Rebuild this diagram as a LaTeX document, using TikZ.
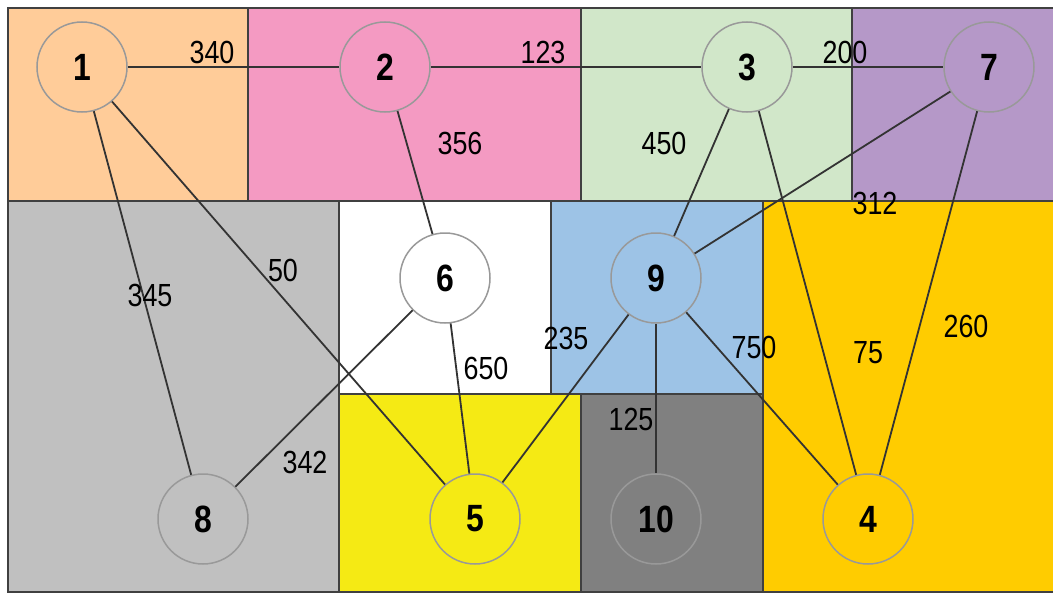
\documentclass[tikz,border=0pt]{standalone}
\usepackage{fontspec}
\newfontfamily\condfont[FakeStretch=0.84]{Liberation Sans}
\definecolor{cOrange}{HTML}{FFCC99}
\definecolor{cPink}{HTML}{F49AC2}
\definecolor{cGreen}{HTML}{D1E7C9}
\definecolor{cPurple}{HTML}{B598C8}
\definecolor{cGray}{HTML}{C0C0C0}
\definecolor{cBlue}{HTML}{9DC3E6}
\definecolor{cYellow}{HTML}{F5EA14}
\definecolor{cDark}{HTML}{808080}
\definecolor{cGold}{HTML}{FFCC00}
\definecolor{cBorder}{HTML}{404040}
\definecolor{cLine}{HTML}{333333}
\definecolor{cRing}{HTML}{999999}
\tikzset{
  region/.style={draw=cBorder, line width=2pt},
  vertex/.style={circle, draw=cRing, line width=1.5pt, minimum size=90pt, inner sep=0pt,
    font=\condfont\bfseries\fontsize{38}{42}\selectfont},
  edge/.style={draw=cLine, line width=1.8pt},
  wlabel/.style={inner sep=0pt, font=\condfont\fontsize{32}{36}\selectfont}
}
\begin{document}
\begin{tikzpicture}[x=1pt,y=-1pt]
\useasboundingbox (0,0) rectangle (1053,594);
% regions
\path[region, fill=cOrange] (8,8) rectangle (248,201);
\path[region, fill=cPink] (248,8) rectangle (581,201);
\path[region, fill=cGreen] (581,8) rectangle (852,201);
\path[region, fill=cPurple] (852,8) rectangle (1054,201);
\path[region, fill=cGray] (8,201) rectangle (339,592);
\path[region, fill=white] (339,201) rectangle (551,394);
\path[region, fill=cBlue] (551,201) rectangle (763,394);
\path[region, fill=cYellow] (339,394) rectangle (581,592);
\path[region, fill=cDark] (581,394) rectangle (763,592);
\path[region, fill=cGold] (763,201) rectangle (1054,592);
% nodes
\node[vertex, fill=cOrange] (n1) at (82,67) {1};
\node[vertex, fill=cPink] (n2) at (385,67) {2};
\node[vertex, fill=cGreen] (n3) at (747,67) {3};
\node[vertex, fill=cPurple] (n7) at (989,67) {7};
\node[vertex, fill=white] (n6) at (445,278) {6};
\node[vertex, fill=cBlue] (n9) at (656,278) {9};
\node[vertex, fill=cGray] (n8) at (203,519) {8};
\node[vertex, fill=cYellow] (n5) at (475,519) {5};
\node[vertex, fill=cDark] (n10) at (656,519) {10};
\node[vertex, fill=cGold] (n4) at (868,519) {4};
% edges
\draw[edge] (n1) -- (n2);
\draw[edge] (n2) -- (n3);
\draw[edge] (n3) -- (n7);
\draw[edge] (n1) -- (n8);
\draw[edge] (n1) -- (n5);
\draw[edge] (n2) -- (n6);
\draw[edge] (n3) -- (n9);
\draw[edge] (n3) -- (n4);
\draw[edge] (n7) -- (n9);
\draw[edge] (n7) -- (n4);
\draw[edge] (n6) -- (n8);
\draw[edge] (n6) -- (n5);
\draw[edge] (n9) -- (n5);
\draw[edge] (n9) -- (n10);
\draw[edge] (n9) -- (n4);
% labels
\node[wlabel] (l12) at (212,52) {340};
\node[wlabel] (l23) at (543,52) {123};
\node[wlabel] (l37) at (845,52) {200};
\node[wlabel] (l26) at (460,143) {356};
\node[wlabel] (l39) at (664,143) {450};
\node[wlabel] (l79) at (875,203) {312};
\node[wlabel] (l18) at (150,295) {345};
\node[wlabel] (l15) at (283,270) {50};
\node[wlabel] (l65) at (486,368) {650};
\node[wlabel] (l95) at (566,338) {235};
\node[wlabel] (l94) at (754,347) {750};
\node[wlabel] (l34) at (868,353) {75};
\node[wlabel] (l74) at (966,326) {260};
\node[wlabel] (l68) at (305,462) {342};
\node[wlabel] (l910) at (631,419) {125};
\end{tikzpicture}
\end{document}
